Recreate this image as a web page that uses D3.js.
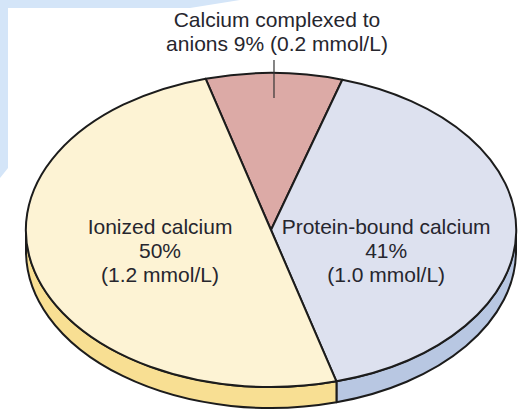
<!DOCTYPE html>
<html>
<head>
<meta charset="utf-8">
<script src="https://cdn.jsdelivr.net/npm/d3@7"></script>
<style>
  html, body { margin: 0; padding: 0; background: #ffffff; }
  svg { display: block; }
  text { font-family: "Liberation Sans", Arial, sans-serif; fill: #26262e; }
</style>
</head>
<body>
<div id="chart"></div>
<script>
// Calcium fractions in plasma
var names = ["Calcium complexed to anions", "Protein-bound calcium", "Ionized calcium"];
var percents = [9, 41, 50];
var mmol = ["0.2", "1.0", "1.2"];

var width = 518, height = 412;

// ellipse of the top face and depth of the disc
var cx = 271, cy = 230, rx = 245, ry = 157, depth = 21;
var startAngle = -15.5 * Math.PI / 180;

var topColor = d3.scaleOrdinal().domain(names).range(["#dcaaa6", "#dde1ef", "#fdf3d4"]);
var sideColor = d3.scaleOrdinal().domain(names).range(["#c98f8a", "#b8c7e2", "#f8df93"]);

var svg = d3.select("#chart").append("svg")
  .attr("width", width)
  .attr("height", height);

// light blue frame in the corner behind the chart
svg.append("path")
  .attr("d", "M0,0 L240,0 Q215,4 190,8 L8,8 L8,168 L0,178 Z")
  .attr("fill", "#d4e5f8");

var data = names.map(function(n, i) { return { name: n, value: percents[i], mmol: mmol[i] }; });

var pie = d3.pie()
  .sort(null)
  .value(function(d) { return d.value; })
  .startAngle(startAngle)
  .endAngle(startAngle + 2 * Math.PI);

var arcs = pie(data);

// point on the ellipse for a d3 pie angle (clockwise from 12 o'clock)
function px(a) { return cx + rx * Math.sin(a); }
function py(a) { return cy - ry * Math.cos(a); }

// side walls: only the front half (angles PI/2 .. 3PI/2) is visible
var side = svg.append("g");
arcs.forEach(function(d) {
  var a0 = Math.max(d.startAngle, Math.PI / 2);
  var a1 = Math.min(d.endAngle, 3 * Math.PI / 2);
  if (a1 <= a0) return;
  var large = (a1 - a0) > Math.PI ? 1 : 0;
  var p = "M" + px(a0) + "," + py(a0) +
    " A" + rx + "," + ry + " 0 " + large + " 1 " + px(a1) + "," + py(a1) +
    " L" + px(a1) + "," + (py(a1) + depth) +
    " A" + rx + "," + ry + " 0 " + large + " 0 " + px(a0) + "," + (py(a0) + depth) + " Z";
  side.append("path")
    .attr("d", p)
    .attr("fill", sideColor(d.data.name))
    .attr("stroke", "#1c1c1c")
    .attr("stroke-width", 2)
    .attr("stroke-linejoin", "round");
});

// top face: unit pie squashed into the ellipse
var arc = d3.arc().innerRadius(0).outerRadius(1);

svg.append("g")
  .attr("transform", "translate(" + cx + "," + cy + ") scale(" + rx + "," + ry + ")")
  .selectAll("path")
  .data(arcs)
  .enter().append("path")
    .attr("d", arc)
    .attr("fill", function(d) { return topColor(d.data.name); })
    .attr("stroke", "#1c1c1c")
    .attr("stroke-width", 2)
    .attr("stroke-linejoin", "round")
    .attr("vector-effect", "non-scaling-stroke");

// labels
var labelArc = d3.arc().innerRadius(0).outerRadius(0.94);
var fs = 21, lh = 24;

arcs.forEach(function(d, i) {
  if (i === 0) {
    // small slice: label above with a leader line
    var mid = (d.startAngle + d.endAngle) / 2;
    var lx = px(mid);
    svg.append("line")
      .attr("x1", lx).attr("x2", lx)
      .attr("y1", py(mid) - 13).attr("y2", py(mid) + 25)
      .attr("stroke", "#333")
      .attr("stroke-width", 1.2);
    var t = svg.append("text")
      .attr("text-anchor", "middle")
      .attr("font-size", fs);
    t.append("tspan").attr("x", lx + 3).attr("y", 27).text("Calcium complexed to");
    t.append("tspan").attr("x", lx + 3).attr("y", 27 + lh)
      .text("anions " + d.data.value + "% (" + d.data.mmol + " mmol/L)");
  } else {
    var c = labelArc.centroid(d);
    var x = cx + c[0] * rx;
    var y = cy + 28;
    var t2 = svg.append("text")
      .attr("text-anchor", "middle")
      .attr("font-size", fs);
    t2.append("tspan").attr("x", x).attr("y", y - lh).text(d.data.name);
    t2.append("tspan").attr("x", x).attr("y", y).text(d.data.value + "%");
    t2.append("tspan").attr("x", x).attr("y", y + lh).text("(" + d.data.mmol + " mmol/L)");
  }
});
</script>
</body>
</html>
